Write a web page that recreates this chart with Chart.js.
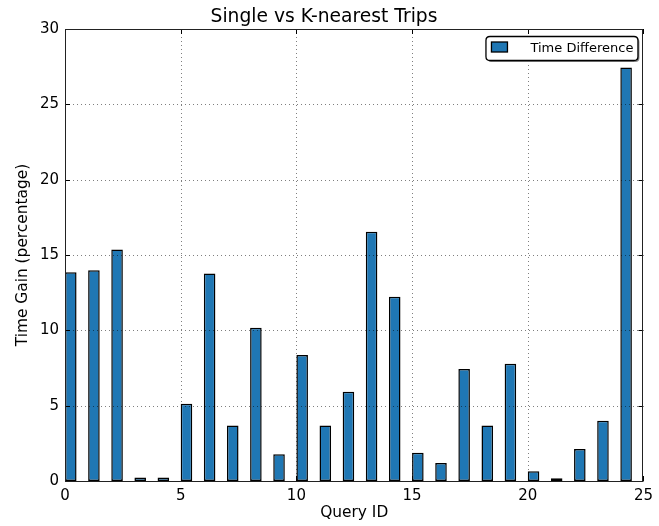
<!DOCTYPE html>
<html>
<head>
<meta charset="utf-8">
<script src="https://cdn.jsdelivr.net/npm/chart.js@4/dist/chart.umd.min.js"></script>
<style>
  html, body { margin: 0; padding: 0; background: #fff; }
  #wrap { width: 659px; height: 526px; }
</style>
</head>
<body>
<div id="wrap"><canvas id="c" width="659" height="526"></canvas></div>
<script>
// Query IDs and the time gain (%) of the K-nearest trip over the single trip
const queryIds = [0, 1, 2, 3, 4, 5, 6, 7, 8, 9, 10, 11, 12, 13, 14, 15, 16, 17, 18, 19, 20, 21, 22, 23, 24];
const timeGain = [13.85, 13.98, 15.37, 0.24, 0.24, 5.13, 13.78, 3.69, 10.17, 1.77,
                  8.36, 3.69, 5.93, 16.54, 12.23, 1.88, 1.19, 7.43, 3.69, 7.79,
                  0.64, 0.18, 2.12, 4.0, 27.45];
const xTicks = [0, 5, 10, 15, 20, 25];
const yTicks = [0, 5, 10, 15, 20, 25, 30];
const seriesName = 'Time Difference';

const BAR_WIDTH = 0.5;          // bars span [id, id + width]
const FONT = '"DejaVu Sans", sans-serif';

// Grid, inward ticks, full frame and legend, drawn above the bars
const overlay = {
  id: 'overlay',
  afterDatasetsDraw(chart) {
    const { ctx, chartArea: a, scales: { x, y } } = chart;
    ctx.save();
    // dotted grid
    ctx.strokeStyle = 'rgba(0,0,0,0.5)';
    ctx.lineWidth = 1;
    ctx.setLineDash([1, 3]);
    xTicks.forEach(v => {
      if (v <= x.min || v >= x.max) return;
      const px = Math.round(x.getPixelForValue(v)) + 0.5;
      ctx.beginPath(); ctx.moveTo(px, a.top); ctx.lineTo(px, a.bottom); ctx.stroke();
    });
    yTicks.forEach(v => {
      if (v <= y.min || v >= y.max) return;
      const py = Math.round(y.getPixelForValue(v)) + 0.5;
      ctx.beginPath(); ctx.moveTo(a.left, py); ctx.lineTo(a.right, py); ctx.stroke();
    });
    ctx.setLineDash([]);
    // inward tick marks on all four sides
    ctx.strokeStyle = '#000';
    const tl = 5;
    xTicks.forEach(v => {
      const px = Math.round(x.getPixelForValue(v)) + 0.5;
      ctx.beginPath();
      ctx.moveTo(px, a.bottom); ctx.lineTo(px, a.bottom - tl);
      ctx.moveTo(px, a.top); ctx.lineTo(px, a.top + tl);
      ctx.stroke();
    });
    yTicks.forEach(v => {
      const py = Math.round(y.getPixelForValue(v)) + 0.5;
      ctx.beginPath();
      ctx.moveTo(a.left, py); ctx.lineTo(a.left + tl, py);
      ctx.moveTo(a.right, py); ctx.lineTo(a.right - tl, py);
      ctx.stroke();
    });
    // frame
    ctx.strokeStyle = '#222';
    ctx.lineWidth = 1;
    ctx.strokeRect(Math.round(a.left) + 0.5, Math.round(a.top) + 0.5,
                   Math.round(a.right - a.left) - 1, Math.round(a.bottom - a.top));

    // legend box (upper right, rounded with shadow)
    const bw = 152, bh = 24;
    const bx = a.right - 6 - bw, by = a.top + 7;
    const rr = (X, Y, W, H, r) => {
      ctx.beginPath();
      ctx.moveTo(X + r, Y); ctx.lineTo(X + W - r, Y); ctx.quadraticCurveTo(X + W, Y, X + W, Y + r);
      ctx.lineTo(X + W, Y + H - r); ctx.quadraticCurveTo(X + W, Y + H, X + W - r, Y + H);
      ctx.lineTo(X + r, Y + H); ctx.quadraticCurveTo(X, Y + H, X, Y + H - r);
      ctx.lineTo(X, Y + r); ctx.quadraticCurveTo(X, Y, X + r, Y); ctx.closePath();
    };
    rr(bx + 2, by + 2, bw, bh, 4);
    ctx.fillStyle = '#8a8a8a'; ctx.fill();
    rr(bx + 0.5, by + 0.5, bw, bh, 4);
    ctx.fillStyle = '#fff'; ctx.fill();
    ctx.strokeStyle = '#000'; ctx.lineWidth = 1.3; ctx.stroke();
    // swatch
    ctx.fillStyle = '#1f77b4';
    ctx.fillRect(bx + 6, by + 6, 16, 10);
    ctx.lineWidth = 1.3;
    ctx.strokeRect(bx + 6, by + 6, 16, 10);
    // label
    ctx.fillStyle = '#000';
    ctx.font = '13px ' + FONT;
    ctx.textBaseline = 'middle';
    ctx.textAlign = 'left';
    ctx.fillText(seriesName, bx + 45, by + 12.5);
    ctx.restore();
  }
};

new Chart(document.getElementById('c'), {
  type: 'bar',
  data: {
    datasets: [{
      label: seriesName,
      data: queryIds.map((id, i) => ({ x: id + BAR_WIDTH / 2, y: timeGain[i] })),
      backgroundColor: '#1f77b4',
      borderColor: '#000',
      borderWidth: 1.5,
      borderSkipped: false,
      barPercentage: BAR_WIDTH,
      categoryPercentage: 1.0
    }]
  },
  options: {
    responsive: false,
    animation: false,
    devicePixelRatio: 1,
    layout: { padding: { left: 0, right: 11, top: 0, bottom: 0 } },
    plugins: {
      legend: { display: false },
      tooltip: { enabled: false },
      title: {
        display: true,
        text: 'Single vs K-nearest Trips',
        color: '#000',
        font: { family: FONT, size: 18.7, weight: 'normal', lineHeight: 1.2 },
        padding: { top: 5.5, bottom: 1.06 }
      }
    },
    scales: {
      x: {
        type: 'linear',
        offset: false,
        min: 0, max: 25,
        afterBuildTicks: s => { s.ticks = xTicks.map(v => ({ value: v })); },
        afterFit: s => { s.height = 45; },
        grid: { display: false, drawTicks: false },
        border: { display: false },
        ticks: { color: '#000', font: { family: FONT, size: 15 }, padding: 6, maxRotation: 0 },
        title: {
          display: true, text: 'Query ID', color: '#000',
          font: { family: FONT, size: 15.4 }, padding: { top: 0, bottom: 3.5 }
        }
      },
      y: {
        min: 0, max: 30,
        afterBuildTicks: s => { s.ticks = yTicks.map(v => ({ value: v })); },
        afterFit: s => { s.width = 65; },
        grid: { display: false, drawTicks: false },
        border: { display: false },
        ticks: { color: '#000', font: { family: FONT, size: 15 }, padding: 6 },
        title: {
          display: true, text: 'Time Gain (percentage)', color: '#000',
          font: { family: FONT, size: 15.4 }, padding: { top: 14, bottom: 0 }
        }
      }
    }
  },
  plugins: [overlay]
});
</script>
</body>
</html>
